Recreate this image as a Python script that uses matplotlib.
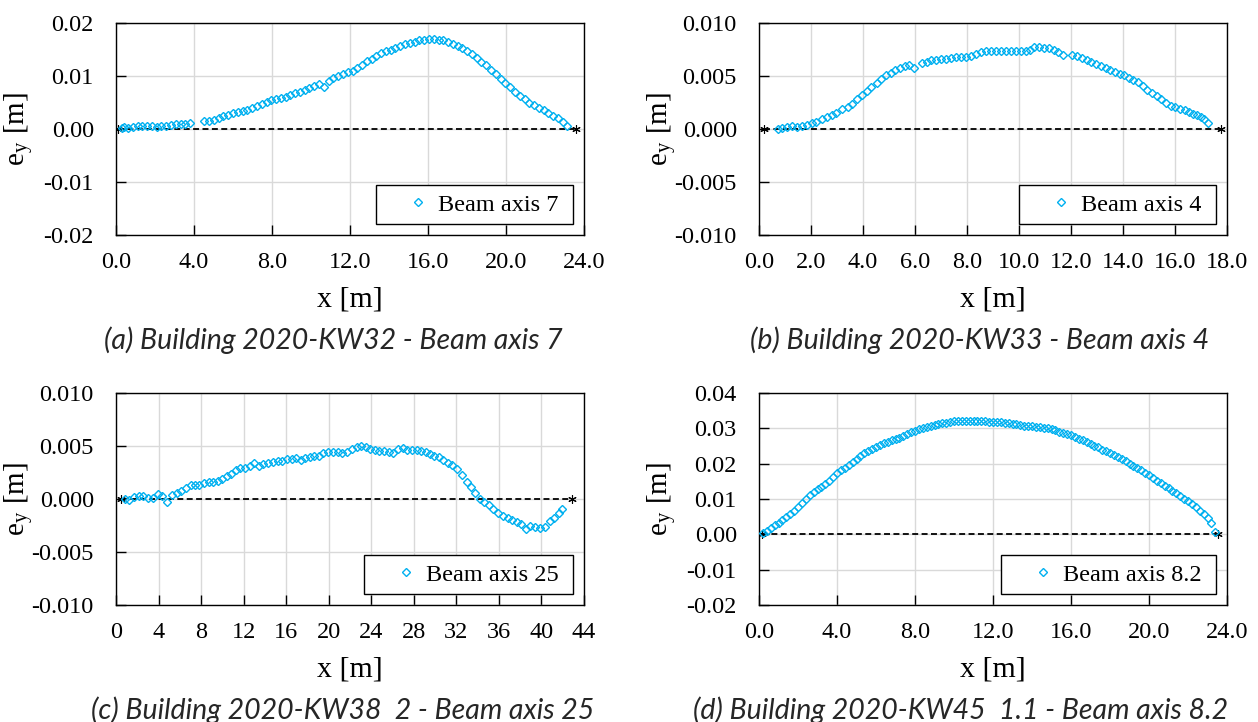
import numpy as np
import matplotlib.pyplot as plt

plt.rcParams['font.family'] = 'Liberation Serif'
plt.rcParams['mathtext.fontset'] = 'stix'
plt.rcParams['axes.unicode_minus'] = False

# (a) Building 2020-KW32 - beam axis 7
xa = [0.30, 0.42, 0.62, 0.86, 1.11, 1.35, 1.60, 1.84, 2.09, 2.33, 2.58, 2.82, 3.07, 3.31, 3.56, 3.80,
      4.53, 4.78, 5.02, 5.27, 5.51, 5.76, 6.00, 6.25, 6.49, 6.74, 6.98, 7.23, 7.47, 7.72, 7.96, 8.21,
      8.45, 8.70, 8.94, 9.19, 9.43, 9.68, 9.92, 10.17, 10.41, 10.66, 10.90, 11.15, 11.39, 11.64, 11.88,
      12.13, 12.37, 12.62, 12.86, 13.11, 13.35, 13.60, 13.84, 14.09, 14.33, 14.58, 14.82, 15.07, 15.31,
      15.56, 15.80, 16.05, 16.29, 16.54, 16.78, 17.03, 17.27, 17.52, 17.76, 18.01, 18.25, 18.50, 18.74,
      18.99, 19.23, 19.48, 19.72, 19.97, 20.21, 20.46, 20.70, 20.95, 21.19, 21.44, 21.68, 21.93, 22.17,
      22.42, 22.66, 22.91, 23.15]
ya = [0.0002, 0.0003, 0.0001, 0.0004, 0.0005, 0.0005, 0.0005, 0.0005, 0.0004, 0.0005, 0.0006, 0.0008,
      0.0009, 0.0010, 0.0010, 0.0012,
      0.00145, 0.0015, 0.0017, 0.0020, 0.0024, 0.0027, 0.0031, 0.0033, 0.0034, 0.0036, 0.0039, 0.0043,
      0.0047, 0.0051, 0.0054, 0.0056, 0.0058, 0.0061, 0.0064, 0.0067, 0.0070, 0.0074, 0.0078, 0.0082,
      0.0085, 0.0080, 0.0091, 0.0096, 0.0100, 0.0104, 0.0107, 0.0110, 0.0116, 0.0121, 0.0128, 0.0133,
      0.0138, 0.0143, 0.0147, 0.0150, 0.0153, 0.0157, 0.0160, 0.0162, 0.0165, 0.0167, 0.0168, 0.0169,
      0.0169, 0.0168, 0.0167, 0.0164, 0.0161, 0.0157, 0.0152, 0.0147, 0.0141, 0.0134, 0.0127, 0.0120,
      0.0112, 0.0103, 0.0095, 0.0087, 0.0080, 0.0070, 0.0062, 0.0056, 0.0050, 0.0045, 0.0040, 0.0035,
      0.0030, 0.0025, 0.0020, 0.0013, 0.0005]
sup_a = [0.12, 23.6]

# (b) Building 2020-KW33 - beam axis 4
xb = [0.72, 0.90, 1.09, 1.28, 1.47, 1.64, 1.83, 2.02, 2.21, 2.41, 2.60, 2.79, 2.98, 3.20, 3.43, 3.59,
      3.77, 3.97, 4.16, 4.32, 4.52, 4.71, 4.90, 5.09, 5.24, 5.44, 5.60, 5.76, 5.95,
      6.28, 6.46, 6.63, 6.82, 7.01, 7.20, 7.39, 7.58, 7.78, 7.97, 8.16, 8.35, 8.54, 8.74, 8.93, 9.12,
      9.31, 9.50, 9.70, 9.89, 10.08, 10.25, 10.43, 10.59, 10.78, 10.98, 11.17, 11.33, 11.51, 11.68,
      12.02, 12.22, 12.41, 12.60, 12.77, 12.96, 13.15, 13.34, 13.51, 13.70, 13.88, 14.05, 14.24, 14.40,
      14.56, 14.75, 14.94, 15.11, 15.29, 15.45, 15.65, 15.84, 16.00, 16.20, 16.37, 16.54, 16.71, 16.86,
      17.01, 17.11, 17.27]
yb = [0.0000, 0.0001, 0.0002, 0.0003, 0.0002, 0.0003, 0.0004, 0.0006, 0.0007, 0.0009, 0.0011, 0.0013,
      0.0015, 0.0019, 0.0021, 0.0024, 0.0028, 0.0032, 0.0036, 0.0040, 0.0043, 0.0047, 0.0051, 0.0053,
      0.0056, 0.0058, 0.0059, 0.0060, 0.0058,
      0.0062, 0.0063, 0.0065, 0.0065, 0.0066, 0.0066, 0.0067, 0.0068, 0.0068, 0.0068, 0.0069, 0.0071,
      0.0073, 0.0074, 0.0074, 0.0074, 0.0074, 0.0074, 0.0074, 0.0074, 0.0074, 0.0074, 0.0075, 0.0077,
      0.0077, 0.0076, 0.0076, 0.0075, 0.0073, 0.0070,
      0.0070, 0.0069, 0.0067, 0.0065, 0.0063, 0.0061, 0.0059, 0.0058, 0.0056, 0.0054, 0.0052, 0.0051,
      0.0048, 0.0046, 0.0044, 0.0041, 0.0037, 0.0034, 0.0031, 0.0028, 0.0025, 0.0022, 0.0021, 0.0019,
      0.0018, 0.0016, 0.0014, 0.0013, 0.0011, 0.0009, 0.0006]
sup_b = [0.2, 17.75]

# (c) Building 2020-KW38 2 - beam axis 25
xc = [0.85, 1.25, 1.69, 2.16, 2.57, 3.04, 3.51, 3.92, 4.35, 4.82, 5.23, 5.70, 6.11, 6.55, 7.02, 7.43,
      7.83, 8.30, 8.74, 9.15, 9.56, 9.99, 10.40, 10.81, 11.24, 11.65, 12.12, 12.59, 13.00, 13.44, 13.85,
      14.32, 14.79, 15.19, 15.63, 16.04, 16.51, 16.92, 17.36, 17.77, 18.23, 18.64, 19.08, 19.49, 19.96,
      20.36, 20.83, 21.27, 21.68,
      22.15, 22.62, 23.03, 23.47, 23.87, 24.34, 24.75, 25.19, 25.66, 26.07, 26.53, 26.94, 27.38, 27.79,
      28.26, 28.66, 29.10, 29.51, 29.92, 30.36, 30.77, 31.17, 31.61, 32.08, 32.55, 32.96, 33.33, 33.74,
      34.21, 34.62, 35.06, 35.46, 35.93, 36.40, 36.81, 37.25, 37.66, 38.12, 38.53, 38.97, 39.44, 39.91,
      40.32, 40.78, 41.19, 41.63, 41.92]
yc = [0.0000, -0.0001, 0.0002, 0.0003, 0.0003, 0.0001, 0.0001, 0.0005, 0.0003, -0.0003, 0.0004, 0.0006,
      0.0008, 0.0010, 0.0013, 0.0013, 0.0013, 0.0015, 0.0016, 0.0016, 0.0017, 0.0019, 0.0022, 0.0024,
      0.0027, 0.0029, 0.0029, 0.0031, 0.0034, 0.0031, 0.0033, 0.0034, 0.0035, 0.0036, 0.0036, 0.0038,
      0.0038, 0.0039, 0.0037, 0.0039, 0.0040, 0.0041, 0.0041, 0.0043, 0.0044, 0.0044, 0.0044, 0.0043,
      0.0044,
      0.0047, 0.0049, 0.0050, 0.0049, 0.0047, 0.0046, 0.0045, 0.0045, 0.0044, 0.0043, 0.0047, 0.0048,
      0.0046, 0.0046, 0.0046, 0.0045, 0.0044, 0.0042, 0.0041, 0.0040, 0.0037, 0.0034, 0.0032, 0.0028,
      0.0023, 0.0016, 0.0011, 0.0006, 0.0000, -0.0003, -0.0006, -0.0009, -0.0013, -0.0016, -0.0018,
      -0.0020, -0.0022, -0.0024, -0.0028, -0.0025, -0.0026, -0.0027, -0.0026, -0.0021, -0.0018, -0.0013,
      -0.0009]
sup_c = [0.47, 42.9]

# (d) Building 2020-KW45 1.1 - beam axis 8.2
xd = [0.2, 0.4, 0.6, 0.8, 1.0, 1.2, 1.4, 1.6, 1.8, 2.0, 2.2, 2.4, 2.6, 2.8, 3.0, 3.2, 3.4, 3.6, 3.8, 4.0,
      4.2, 4.4, 4.6, 4.8, 5.0, 5.2, 5.4, 5.6, 5.8, 6.0, 6.2, 6.4, 6.6, 6.8, 7.0, 7.2, 7.4, 7.6, 7.8, 8.0,
      8.2, 8.4, 8.6, 8.8, 9.0, 9.2, 9.4, 9.6, 9.8, 10.0, 10.2, 10.4, 10.6, 10.8, 11.0, 11.2, 11.4, 11.6,
      11.8, 12.0, 12.2, 12.4, 12.6, 12.8, 13.0, 13.2, 13.4, 13.6, 13.8, 14.0, 14.2, 14.4, 14.6, 14.8,
      15.0, 15.2, 15.4, 15.6, 15.8, 16.0, 16.2, 16.4, 16.6, 16.8, 17.0, 17.2, 17.4, 17.6, 17.8, 18.0,
      18.2, 18.4, 18.6, 18.8, 19.0, 19.2, 19.4, 19.6, 19.8, 20.0, 20.2, 20.4, 20.6, 20.8, 21.0, 21.2,
      21.4, 21.6, 21.8, 22.0, 22.2, 22.4, 22.6, 22.8, 23.0, 23.2, 23.4]
yd = [0.0004, 0.0010, 0.0018, 0.0026, 0.0032, 0.0040, 0.0049, 0.0058, 0.0066, 0.0076, 0.0088, 0.0100,
      0.0110, 0.0119, 0.0127, 0.0134, 0.0142, 0.0152, 0.0163, 0.0173, 0.0181, 0.0189, 0.0197, 0.0205,
      0.0214, 0.0221, 0.0229, 0.0236, 0.0242, 0.0248, 0.0253, 0.0258, 0.0262, 0.0266, 0.0270, 0.0274,
      0.0279, 0.0284, 0.0289, 0.0293, 0.0297, 0.0301, 0.0304, 0.0307, 0.0309, 0.0312, 0.0314, 0.0316,
      0.0318, 0.0320, 0.0321, 0.0322, 0.0322, 0.0321, 0.0320, 0.0320, 0.0320, 0.0320, 0.0319, 0.0319,
      0.0318, 0.0317, 0.0315, 0.0314, 0.0312, 0.0311, 0.0310, 0.0308, 0.0307, 0.0306, 0.0305, 0.0304,
      0.0302, 0.0300, 0.0297, 0.0294, 0.0291, 0.0288, 0.0284, 0.0280, 0.0276, 0.0271, 0.0266, 0.0261,
      0.0256, 0.0251, 0.0246, 0.0240, 0.0235, 0.0230, 0.0224, 0.0219, 0.0213, 0.0207, 0.0200, 0.0194,
      0.0188, 0.0181, 0.0174, 0.0167, 0.0159, 0.0152, 0.0144, 0.0137, 0.0130, 0.0123, 0.0116, 0.0108,
      0.0101, 0.0093, 0.0085, 0.0076, 0.0067, 0.0058, 0.0046, 0.0032, 0.0008]
sup_d = [0.14, 23.54]

panels = [
    (xa, ya, sup_a, 'Beam axis 7', '(a) Building 2020-KW32 - Beam axis 7',
     np.arange(0, 24.1, 4), '{:.1f}', np.arange(-0.02, 0.021, 0.01), '{:.2f}'),
    (xb, yb, sup_b, 'Beam axis 4', '(b) Building 2020-KW33 - Beam axis 4',
     np.arange(0, 18.1, 2), '{:.1f}', np.arange(-0.01, 0.0101, 0.005), '{:.3f}'),
    (xc, yc, sup_c, 'Beam axis 25', '(c) Building 2020-KW38  2 - Beam axis 25',
     np.arange(0, 44.1, 4), '{:.0f}', np.arange(-0.01, 0.0101, 0.005), '{:.3f}'),
    (xd, yd, sup_d, 'Beam axis 8.2', '(d) Building 2020-KW45  1.1 - Beam axis 8.2',
     np.arange(0, 24.1, 4), '{:.1f}', np.arange(-0.02, 0.041, 0.01), '{:.2f}'),
]

W, H = 1258, 722
boxes = [(116, 23), (759, 23), (116, 393), (759, 393)]
cap_x = [333, 980, 343, 961]
aw, ah = 468, 212

fig = plt.figure(figsize=(W / 100, H / 100), dpi=100)

for (x, y, sup, lab, cap, xt, xf, yt, yf), (l, t), cx in zip(panels, boxes, cap_x):
    ax = fig.add_axes([l / W, 1 - (t + ah) / H, aw / W, ah / H])
    ax.plot(sup, [0, 0], color='black', lw=1.3, dashes=(3.3, 1.9),
            marker=(6, 2, 0), ms=6, mew=0.8, zorder=2)
    h, = ax.plot(x, y, ls='none', marker='D', ms=4.4, mfc='none',
                 mec='#00B0F0', mew=1.0, zorder=3)
    ax.set_xlim(xt[0], xt[-1])
    ax.set_ylim(yt[0], yt[-1])
    ax.set_xticks(xt)
    ax.set_xticklabels([xf.format(v) for v in xt])
    ax.set_yticks(yt)
    ax.set_yticklabels([yf.format(v + 0.0) for v in yt])
    ax.grid(True, color='#d9d9d9', lw=1.0)
    ax.set_axisbelow(True)
    ax.tick_params(direction='in', length=7, width=1, labelsize=17.5)
    ax.tick_params(axis='x', pad=12)
    ax.tick_params(axis='y', pad=16)
    for s in ax.spines.values():
        s.set_linewidth(1.0)
    ax.set_xlabel('x [m]', fontsize=21.5, labelpad=10)
    ax.set_ylabel(r'e$_\mathregular{y}$ [m]', fontsize=21)
    ax.yaxis.set_label_coords(-0.17, 0.5)
    leg = ax.legend([h], [lab + ' '], loc='lower right', fontsize=17.5, numpoints=1,
                    handlelength=2.75, handletextpad=-0.55, borderaxespad=0.45,
                    fancybox=False, framealpha=1, edgecolor='black',
                    borderpad=0.35)
    leg.get_frame().set_linewidth(1.0)
    fig.text(cx / W, 1 - (t + 317) / H, cap, ha='center', va='center',
             fontsize=20.5, family='Lato', style='italic', color='#262626')

fig.savefig('out.png', dpi=100)
